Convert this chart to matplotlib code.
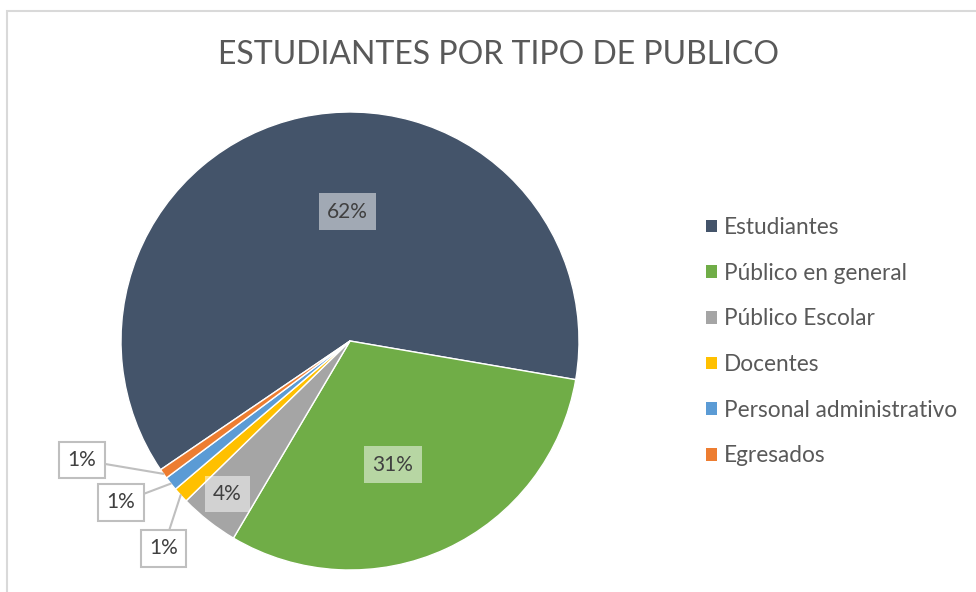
import matplotlib
matplotlib.use("Agg")
import matplotlib.pyplot as plt
from matplotlib.patches import Rectangle, Patch
import numpy as np

categories = ["Estudiantes", "Público en general", "Público Escolar", "Docentes",
              "Personal administrativo", "Egresados"]
values = [62.2, 30.8, 4.2, 1.1, 1.0, 0.7]
pct_labels = ["62%", "31%", "4%", "1%", "1%", "1%"]
colors = ["#44546A", "#70AD47", "#A5A5A5", "#FFC000", "#5B9BD5", "#ED7D31"]
title = "ESTUDIANTES POR TIPO DE PUBLICO"

FONT = ["Lato", "DejaVu Sans"]
plt.rcParams["font.family"] = FONT

W, H = 976, 592
fig = plt.figure(figsize=(W / 100, H / 100), dpi=100)
fig.patch.set_facecolor("white")

# chart border
fig.patches.append(Rectangle((7 / W, -0.05), 1.2, (H - 11) / H + 0.05, transform=fig.transFigure,
                             fill=False, edgecolor="#D9D9D9", linewidth=1.5))

cx, cy, r = 350, 341, 229
ax = fig.add_axes([(cx - r) / W, (H - cy - r) / H, 2 * r / W, 2 * r / H])
wedges, _ = ax.pie(values, colors=colors, startangle=214.2, counterclock=False,
                   wedgeprops=dict(edgecolor="white", linewidth=1.0))
ax.set_xlim(-1, 1)
ax.set_ylim(-1, 1)
ax.set_aspect("equal")
ax.axis("off")

LBL = 15
# inside label positions (data units of pie axes)
inside_pos = {0: (-0.01, 0.565), 1: (0.188, -0.54), 2: (-0.535, -0.668)}
for i, (x, y) in inside_pos.items():
    ax.text(x, y, pct_labels[i], ha="center", va="center", fontsize=LBL, color="#404040",
            bbox=dict(boxstyle="square,pad=0.4", facecolor="white", alpha=0.5, edgecolor="none"))

# outside labels with leader lines
outside_pos = {5: (-1.17, -0.52), 4: (-1.0, -0.705), 3: (-0.815, -0.905)}
for i, (x, y) in outside_pos.items():
    w = wedges[i]
    mid = np.deg2rad((w.theta1 + w.theta2) / 2)
    px, py = np.cos(mid), np.sin(mid)
    ax.annotate(pct_labels[i], xy=(px, py), xytext=(x, y), ha="center", va="center",
                fontsize=LBL, color="#404040",
                bbox=dict(boxstyle="square,pad=0.4", facecolor="white", edgecolor="#BFBFBF",
                          linewidth=1.5),
                arrowprops=dict(arrowstyle="-", color="#BFBFBF", linewidth=1.5,
                                shrinkA=0, shrinkB=0),
                annotation_clip=False)

fig.text(498 / W, 1 - 55 / H, title, ha="center", va="center", fontsize=23,
         color="#595959", fontweight="normal")

handles = [Patch(facecolor=c, edgecolor="none") for c in colors]
leg = fig.legend(handles, categories, loc="upper left", bbox_to_anchor=(706 / W, 1 - 217 / H),
                 frameon=False, fontsize=16.3, labelcolor="#595959", handlelength=0.5,
                 handleheight=0.5, handletextpad=0.3, labelspacing=1.09, borderpad=0,
                 borderaxespad=0)

fig.savefig("out.png", dpi=100, facecolor="white")
